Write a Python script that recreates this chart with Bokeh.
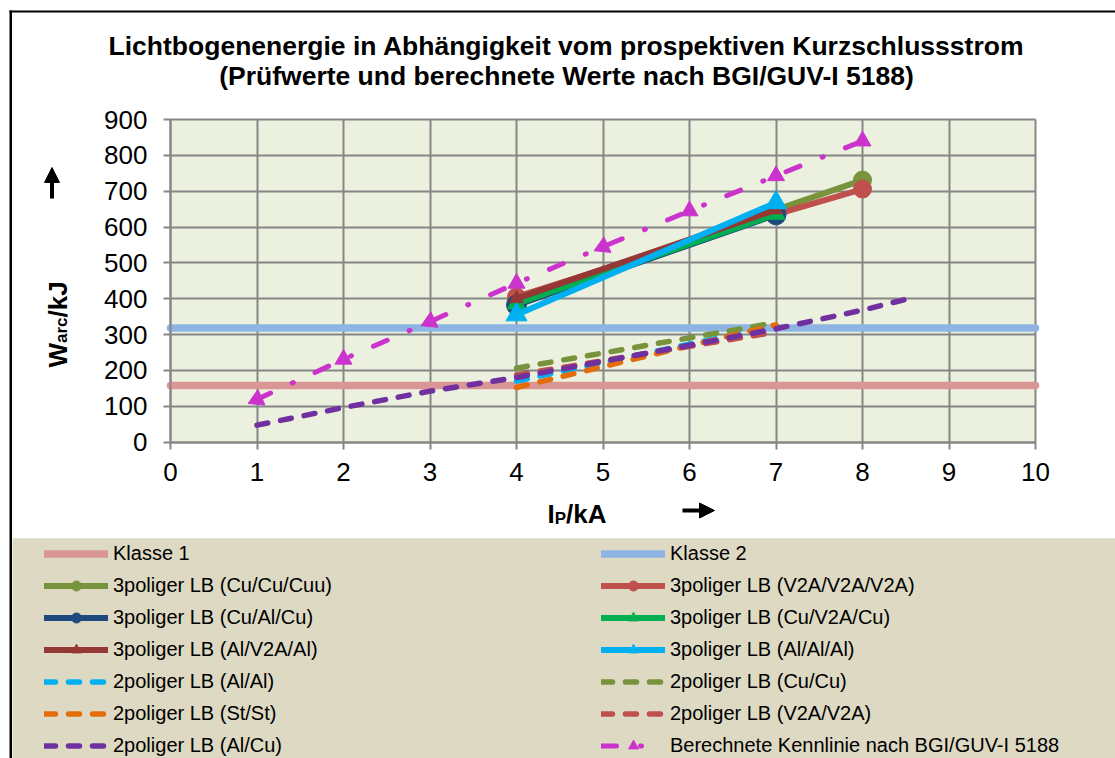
import math
from bokeh.plotting import figure
from bokeh.models import (Range1d, Legend, LegendItem, Label, ColumnDataSource, FixedTicker,
                          BoxAnnotation, Arrow, NormalHead)
from bokeh.embed import file_html
from bokeh.resources import INLINE

# ---------------- data ----------------
x_ticks = [0, 1, 2, 3, 4, 5, 6, 7, 8, 9, 10]
y_ticks = [0, 100, 200, 300, 400, 500, 600, 700, 800, 900]
x_bounds = (0, 10)
y_bounds = (0, 900)

klasse_x = [0, 10]
klasse1_y = [158, 158]
klasse2_y = [318, 318]

x_4_7 = [4, 7]
x_4_7_8 = [4, 7, 8]
cu_cu_cuu_y = [390, 648, 731]
v2a_v2a_v2a_y = [405, 635, 706]
cu_al_cu_y = [382, 634]
cu_v2a_cu_y = [386, 636]
al_v2a_al_y = [400, 648]
al_al_al_y = [355, 668]

al_al_2_y = [170, 325]
cu_cu_2_y = [206, 333]
st_st_2_y = [152, 327]
v2a_v2a_2_y = [187, 307]
al_cu_2_x = [1, 2, 3, 4, 5, 6, 7, 8, 8.5]
al_cu_2_y = [47, 96, 142, 180, 225, 270, 316, 368, 398]

calc_x = [1, 2, 3, 4, 5, 6, 7, 8]
calc_y = [119, 231, 336, 443, 545, 645, 743, 840]

title_lines = ["Lichtbogenenergie in Abhängigkeit vom prospektiven Kurzschlussstrom",
               "(Prüfwerte und berechnete Werte nach BGI/GUV-I 5188)"]

# ---------------- styles ----------------
FONT = "Liberation Sans"
DASH = "11 13"
DASHDOT = "15 24 1 24"
calc_marker_angle = [2.0, 0, 2.0, 0, 2.0, 0, 0, 0]

series = [
    dict(label="Klasse 1", x=klasse_x, y=klasse1_y, color="#D99694", lw=7.5, dash="solid", marker=None, size=0),
    dict(label="Klasse 2", x=klasse_x, y=klasse2_y, color="#8EB4E3", lw=7.5, dash="solid", marker=None, size=0),
    dict(label="3poliger LB (Cu/Cu/Cuu)", x=x_4_7_8, y=cu_cu_cuu_y, color="#77933C", lw=6, dash="solid", marker="circle", size=18),
    dict(label="3poliger LB (V2A/V2A/V2A)", x=x_4_7_8, y=v2a_v2a_v2a_y, color="#C0504D", lw=6, dash="solid", marker="circle", size=18),
    dict(label="3poliger LB (Cu/Al/Cu)", x=x_4_7, y=cu_al_cu_y, color="#1F497D", lw=6, dash="solid", marker="circle", size=20),
    dict(label="3poliger LB (Cu/V2A/Cu)", x=x_4_7, y=cu_v2a_cu_y, color="#00B050", lw=6, dash="solid", marker="triangle", size=18),
    dict(label="3poliger LB (Al/V2A/Al)", x=x_4_7, y=al_v2a_al_y, color="#953735", lw=6, dash="solid", marker="triangle", size=14),
    dict(label="3poliger LB (Al/Al/Al)", x=x_4_7, y=al_al_al_y, color="#00B0F0", lw=6, dash="solid", marker="triangle", size=21),
    dict(label="2poliger LB (Al/Al)", x=x_4_7, y=al_al_2_y, color="#00B0F0", lw=5.5, dash=DASH, marker=None, size=0),
    dict(label="2poliger LB (Cu/Cu)", x=x_4_7, y=cu_cu_2_y, color="#77933C", lw=5.5, dash=DASH, marker=None, size=0),
    dict(label="2poliger LB (St/St)", x=x_4_7, y=st_st_2_y, color="#E46C0A", lw=5.5, dash=DASH, marker=None, size=0),
    dict(label="2poliger LB (V2A/V2A)", x=x_4_7, y=v2a_v2a_2_y, color="#C0504D", lw=5.5, dash=DASH, marker=None, size=0),
    dict(label="2poliger LB (Al/Cu)", x=al_cu_2_x, y=al_cu_2_y, color="#7030A0", lw=5.5, dash=DASH, marker=None, size=0),
    dict(label="Berechnete Kennlinie nach BGI/GUV-I 5188", x=calc_x, y=calc_y, color="#CC33CC", lw=5, dash=DASHDOT, marker="triangle", size=17),
]

# ---------------- geometry (page pixels) ----------------
W, H = 1115, 758
FRAME_L, FRAME_R, FRAME_T, FRAME_B = 170, 1035, 119, 441.5
XS = (x_bounds[1] - x_bounds[0]) / (FRAME_R - FRAME_L)
YS = (y_bounds[1] - y_bounds[0]) / (FRAME_B - FRAME_T)
SHIFT = 9.5  # baseline correction of Label text


def dx(px):
    return (px - FRAME_L) * XS


def dy(py):
    return (FRAME_B - py) * YS


p = figure(width=W, height=H, x_range=Range1d(dx(0), dx(W)), y_range=Range1d(dy(H), dy(0)),
           output_backend="svg", toolbar_location=None, title=None, min_border=0,
           background_fill_color="white", border_fill_color="white", outline_line_color=None)

# plot area and legend area backgrounds, chart frame
p.add_layout(BoxAnnotation(left=x_bounds[0], right=x_bounds[1], bottom=y_bounds[0], top=y_bounds[1],
                           fill_color="#EBF1DE", fill_alpha=1, line_color=None, level="image"))
p.add_layout(BoxAnnotation(left=dx(12), top=dy(537.7), fill_color="#DDD9C3", fill_alpha=1,
                           line_color=None, level="image"))
p.add_layout(BoxAnnotation(left=dx(9), right=dx(11.5), top=dy(10), fill_color="black", fill_alpha=1,
                           line_color=None, level="image"))
p.add_layout(BoxAnnotation(left=dx(9), top=dy(10), bottom=dy(12), fill_color="black", fill_alpha=1,
                           line_color=None, level="image"))

# axes placed at the data origin
p.xaxis.ticker = FixedTicker(ticks=x_ticks)
p.yaxis.ticker = FixedTicker(ticks=y_ticks)
p.xaxis.fixed_location = y_bounds[0]
p.yaxis.fixed_location = x_bounds[0]
p.xaxis.bounds = x_bounds
p.yaxis.bounds = y_bounds
for ax in (p.xaxis, p.yaxis):
    ax.axis_line_color = "#868686"
    ax.axis_line_width = 2
    ax.major_tick_line_color = "#868686"
    ax.major_tick_line_width = 2
    ax.major_tick_out = 7
    ax.major_tick_in = 0
    ax.minor_tick_line_color = None
    ax.major_label_text_font = FONT
    ax.major_label_text_font_size = "26px"
    ax.major_label_text_color = "black"
p.xaxis.major_label_standoff = 14
p.yaxis.major_label_standoff = 16

p.grid.grid_line_color = "#868686"
p.grid.grid_line_width = 2
grid_ok = True
try:
    p.xgrid.cross_bounds = y_bounds
    p.ygrid.cross_bounds = x_bounds
except Exception:
    grid_ok = False
if not grid_ok:
    p.grid.visible = False
    p.segment(x0=x_ticks, y0=[y_bounds[0]] * len(x_ticks), x1=x_ticks, y1=[y_bounds[1]] * len(x_ticks),
              line_color="#868686", line_width=2, level="underlay")
    p.segment(x0=[x_bounds[0]] * len(y_ticks), y0=y_ticks, x1=[x_bounds[1]] * len(y_ticks), y1=y_ticks,
              line_color="#868686", line_width=2, level="underlay")


def draw(fig, s, data, angle=0):
    src = ColumnDataSource(data)
    rs = [fig.line("x", "y", source=src, line_color=s["color"], line_width=s["lw"],
                   line_dash=s["dash"], line_cap="round", line_join="round")]
    if s["marker"]:
        rs.append(fig.scatter("x", "y", source=src, marker=s["marker"], size=s["size"],
                              fill_color=s["color"], line_color=s["color"], angle=angle))
    return rs


items = []
for s in series:
    if s["label"].startswith("Berechnete"):
        rs = draw(p, s, dict(x=s["x"], y=s["y"], a=calc_marker_angle), angle="a")
        items.append(LegendItem(label=s["label"], renderers=rs, index=1))
    else:
        rs = draw(p, s, dict(x=s["x"], y=s["y"]))
        items.append(LegendItem(label=s["label"], renderers=rs))


def make_legend(its, loc):
    return Legend(items=its, location=loc, orientation="vertical",
                  glyph_width=64, glyph_height=25, label_height=25, spacing=7,
                  label_standoff=5, padding=0, margin=0, border_line_alpha=0,
                  background_fill_alpha=0, label_text_font=FONT, label_text_font_size="20px",
                  label_text_color="black")


p.add_layout(make_legend(items[0::2], (44, 0)))
p.add_layout(make_legend(items[1::2], (601, 0)))


def lab(px, py, text, size="26px", bold=True, angle=0, align="left", font=FONT):
    if angle:
        px -= SHIFT
    else:
        py -= SHIFT
    p.add_layout(Label(x=dx(px), y=dy(py), text=text, angle=angle, text_align=align,
                       text_baseline="alphabetic", text_font=font, text_font_size=size,
                       text_font_style="bold" if bold else "normal", text_color="black"))


# title
lab(566, 55, title_lines[0], size="26.5px", align="center")
lab(566, 85, title_lines[1], size="26.5px", align="center")
# y axis label  W_arc/kJ (rotated)
rot = math.pi / 2
lab(66.7, 367, "W", angle=rot)
lab(70.5, 342.5, "arc", size="17px", angle=rot)
lab(66.7, 317, "/kJ", angle=rot)
# x axis label I_P/kA
lab(547, 523, "I")
lab(554.2, 527.5, "P", size="17px")
lab(565.5, 523, "/kA")

# axis direction arrows
for (x0, y0, x1, y1) in [(51.5, 198, 51.5, 167), (682, 510, 714, 510)]:
    p.add_layout(Arrow(x_start=dx(x0), y_start=dy(y0), x_end=dx(x1), y_end=dy(y1),
                       line_width=4, line_color="black",
                       end=NormalHead(size=15, fill_color="black", line_color="black", line_width=1)))

open("out.html", "w").write(file_html(p, INLINE))
